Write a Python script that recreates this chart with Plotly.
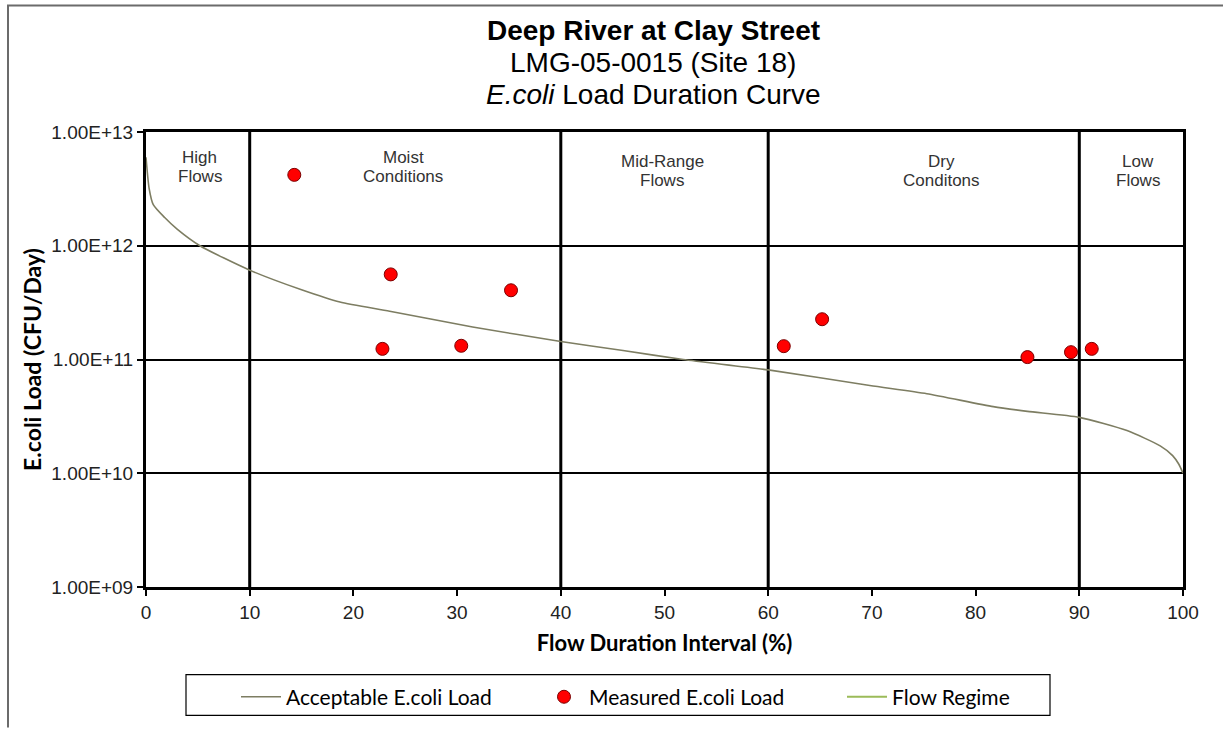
import plotly.graph_objects as go

# Acceptable load curve (flow duration %, CFU/day)
curve_x = [0, 0.3, 0.7, 1.8, 3, 5.2, 10, 15, 18.7, 23.5, 31.5, 40, 46, 51.8,
           60, 69.8, 75.3, 81.7, 85, 90, 94.6, 97.8, 99, 99.6, 100]
curve_y = [6e12, 3.2e12, 2.3e12, 1.77e12, 1.4e12, 1e12, 6.1e11, 4.1e11, 3.2e11,
           2.66e11, 1.93e11, 1.44e11, 1.2e11, 1e11, 8.1e10, 5.9e10, 5e10,
           3.85e10, 3.5e10, 3.1e10, 2.37e10, 1.74e10, 1.43e10, 1.2e10, 1e10]

# Measured samples
meas_x = [14.3, 22.8, 23.6, 30.4, 35.2, 61.5, 65.2, 85.0, 89.2, 91.2]
meas_y = [4.2e12, 1.24e11, 5.6e11, 1.32e11, 4.06e11, 1.31e11, 2.26e11,
          1.05e11, 1.16e11, 1.24e11]

# Flow regime boundaries and zone labels
regime_bounds = [10, 40, 60, 90]
zone_x = [5.2, 24.8, 49.8, 76.7, 95.7]
zone_line1 = ["High", "Moist", "Mid-Range", "Dry", "Low"]
zone_line2 = ["Flows", "Conditions", "Flows", "Conditons", "Flows"]
zone_top_px = [146, 146, 150, 150, 150]

y_tickvals = [1e9, 1e10, 1e11, 1e12, 1e13]
y_ticktext = ["1.00E+09", "1.00E+10", "1.00E+11", "1.00E+12", "1.00E+13"]
x_tickvals = list(range(0, 101, 10))

W, H = 1223, 730
L, R, T, B = 146, 40, 132, 141
PW, PH = W - L - R, H - T - B


def px_y(py):
    return (H - B - py) / PH


def px_x(px):
    return (px - L) / PW


fig = go.Figure()

# regime boundaries as one broken line trace
rx, ry = [], []
for b in regime_bounds:
    rx += [b, b, None]
    ry += [1e9, 1e13, None]
fig.add_trace(go.Scatter(x=rx, y=ry, mode="lines", showlegend=False,
                         line=dict(color="black", width=3), hoverinfo="skip"))

fig.add_trace(go.Scatter(x=curve_x, y=curve_y, mode="lines",
                         name="Acceptable E.coli Load",
                         line=dict(color="#7d7d62", width=1.6, shape="spline",
                                   smoothing=0.6)))
fig.add_trace(go.Scatter(x=meas_x, y=meas_y, mode="markers",
                         name="Measured E.coli Load",
                         marker=dict(color="#ff0000", size=13,
                                     line=dict(color="#7a0000", width=1))))
fig.add_trace(go.Scatter(x=[None], y=[None], mode="lines", name="Flow Regime",
                         line=dict(color="#9bbb59", width=2)))

zone_font = dict(family="Liberation Sans, Arial", size=17, color="#333333")
for zx, l1, l2, zt in zip(zone_x, zone_line1, zone_line2, zone_top_px):
    fig.add_annotation(x=zx, xref="x", y=px_y(zt), yref="paper", text=l1,
                       showarrow=False, yanchor="top", font=zone_font)
    fig.add_annotation(x=zx, xref="x", y=px_y(zt + 19), yref="paper", text=l2,
                       showarrow=False, yanchor="top", font=zone_font)

# three-line title
title_font = dict(family="Liberation Sans, Arial", size=28, color="black")
fig.add_annotation(x=px_x(653), xref="paper", y=px_y(30), yref="paper",
                   text="<b>Deep River at Clay Street</b>", showarrow=False,
                   yanchor="middle", font=title_font)
fig.add_annotation(x=px_x(653), xref="paper", y=px_y(62), yref="paper",
                   text="LMG-05-0015 (Site 18)", showarrow=False,
                   yanchor="middle", font=title_font)
fig.add_annotation(x=px_x(653), xref="paper", y=px_y(94), yref="paper",
                   text="<i>E.coli</i> Load Duration Curve", showarrow=False,
                   yanchor="middle", font=title_font)

# outer chart frame
fig.add_shape(type="path", xref="paper", yref="paper",
              path=f"M {px_x(8)} {px_y(730)} L {px_x(8)} {px_y(5)} L {px_x(1223)} {px_y(5)}",
              line=dict(color="#6b6b6b", width=2))
# legend frame
fig.add_shape(type="rect", xref="paper", yref="paper",
              x0=px_x(186), x1=px_x(1050), y0=px_y(718), y1=px_y(677),
              line=dict(color="black", width=1.2), fillcolor="rgba(0,0,0,0)")

fig.update_layout(
    width=W, height=H,
    margin=dict(l=L, r=R, t=T, b=B),
    paper_bgcolor="white", plot_bgcolor="white",
    font=dict(family="Liberation Sans, Arial", color="#222222"),
    showlegend=True,
    legend=dict(orientation="h", x=px_x(236), xanchor="left",
                y=px_y(679), yanchor="top", borderwidth=0,
                bgcolor="rgba(0,0,0,0)",
                font=dict(family="Lato, Liberation Sans", size=21, color="black"),
                entrywidth=248, itemwidth=40),
)

fig.update_xaxes(range=[0, 100], tickvals=x_tickvals, showgrid=False,
                 zeroline=False, showline=True, linecolor="black", linewidth=3,
                 mirror=True, ticks="outside", ticklen=6, tickcolor="black",
                 tickwidth=1.5,
                 tickfont=dict(size=19, color="#222222"),
                 title=dict(text="<b>Flow Duration Interval (%)</b>",
                            font=dict(family="Lato, Liberation Sans", size=22,
                                      color="black"),
                            standoff=14))
fig.update_yaxes(type="log", range=[9, 13], tickvals=y_tickvals,
                 ticktext=y_ticktext, showgrid=True, gridcolor="black",
                 gridwidth=1.5, zeroline=False, showline=True,
                 linecolor="black", linewidth=3, mirror=True,
                 ticks="outside", ticklen=6, tickcolor="black", tickwidth=1.5,
                 tickfont=dict(size=19, color="#222222"),
                 title=dict(text="<b>E.coli Load (CFU/Day)</b>",
                            font=dict(family="Lato, Liberation Sans", size=23,
                                      color="black"),
                            standoff=4))

fig.write_html("out.html")
